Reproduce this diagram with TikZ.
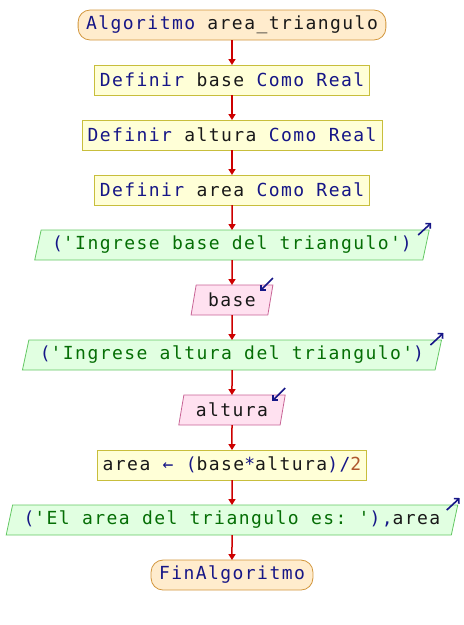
\documentclass[tikz,border=0pt]{standalone}
\usepackage{fontspec}
\setmonofont{DejaVu Sans Mono}[LetterSpace=8]
\usetikzlibrary{shapes.geometric,arrows.meta,positioning}
\definecolor{kwblue}{RGB}{22,22,135}
\definecolor{strgreen}{RGB}{5,110,5}
\definecolor{numbrown}{RGB}{175,88,45}
\definecolor{flowred}{RGB}{205,0,0}
\newcommand\kw[1]{\textcolor{kwblue}{#1}}
\newcommand\lit[1]{\textcolor{strgreen}{#1}}
\newcommand\nm[1]{\textcolor{numbrown}{#1}}
\tikzset{%
blk/.style={font=\ttfamily\fontsize{18}{20}\selectfont,text={black!90},minimum height=30pt,inner ysep=0pt,outer sep=0pt,line width=0.8pt},
terminal/.style={blk,rounded corners=12pt,inner xsep=8pt,draw={rgb,255:red,210;green,150;blue,60},fill={rgb,255:red,255;green,236;blue,205}},
process/.style={blk,inner xsep=5.5pt,draw={rgb,255:red,200;green,190;blue,60},fill={rgb,255:red,255;green,255;blue,215}},
io/.style={blk,trapezium,trapezium left angle=70,trapezium right angle=110,trapezium stretches},
output/.style={io,inner xsep=11pt,draw={rgb,255:red,100;green,200;blue,100},fill={rgb,255:red,225;green,255;blue,225}},
input/.style={io,inner xsep=12pt,draw={rgb,255:red,200;green,100;blue,150},fill={rgb,255:red,255;green,225;blue,240}},
flow/.style={flowred,line width=1.5pt,-{Triangle[length=6pt,width=7pt]}},
ioarrow/.style={kwblue,line width=1.6pt,-{Straight Barb[length=3.5pt,width=7pt]}}
}
\begin{document}
\begin{tikzpicture}[node distance=25pt]
\useasboundingbox (0,0) rectangle (464pt,-625pt);
% flowchart blocks
\node[terminal] (alg) at (232pt,-25pt) {\kw{Algoritmo} area\_triangulo};
\node[process,below=of alg] (defbase) {\kw{Definir} base \kw{Como Real}};
\node[process,below=of defbase] (defalt) {\kw{Definir} altura \kw{Como Real}};
\node[process,below=of defalt] (defarea) {\kw{Definir} area \kw{Como Real}};
\node[output,below=of defarea] (outbase) {\kw{(}\lit{'Ingrese base del triangulo'}\kw{)}};
\node[input,below=of outbase] (inbase) {base};
\node[output,below=of inbase] (outalt) {\kw{(}\lit{'Ingrese altura del triangulo'}\kw{)}};
\node[input,below=of outalt] (inalt) {altura};
\node[process,below=of inalt] (calc) {area \kw{←} \kw{(}base\kw{*}altura\kw{)/}\nm{2}};
\node[output,below=of calc] (outarea) {\kw{(}\lit{'El area del triangulo es: '}\kw{),}area};
\node[terminal,below=of outarea] (fin) {\kw{FinAlgoritmo}};
% connectors
\foreach \a/\b in {alg/defbase,defbase/defalt,defalt/defarea,defarea/outbase,outbase/inbase,
  inbase/outalt,outalt/inalt,inalt/calc,calc/outarea,outarea/fin}
  \draw[flow] (\a) -- (\b);
% read / write marks
\foreach \n in {outbase,outalt,outarea}
  \draw[ioarrow] ([shift={(-11pt,-5pt)}]\n.top right corner) -- ++(13pt,12pt);
\foreach \n in {inbase,inalt}
  \draw[ioarrow] ([shift={(0pt,7pt)}]\n.top right corner) -- ++(-13pt,-13pt);
\end{tikzpicture}
\end{document}
